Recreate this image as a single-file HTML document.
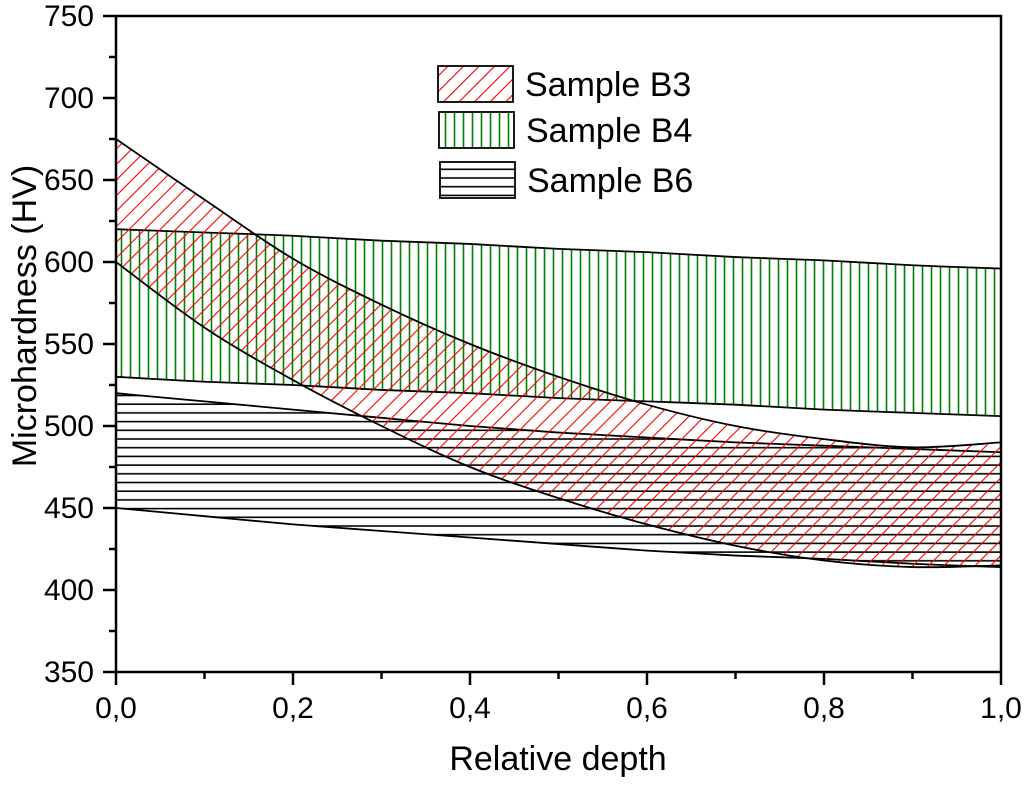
<!DOCTYPE html>
<html><head><meta charset="utf-8"><style>
body{margin:0;background:#fff;}
svg text{font-family:"Liberation Sans",sans-serif;fill:#000;}
</style></head><body>
<svg id="chart" width="1024" height="781" viewBox="0 0 1024 781" xmlns="http://www.w3.org/2000/svg">
<defs>
<pattern id="pRed" patternUnits="userSpaceOnUse" width="11" height="11" patternTransform="rotate(45)">
<line x1="0" y1="0" x2="0" y2="11" stroke="#ff0000" stroke-width="2.2"/></pattern>
<pattern id="pGreen" patternUnits="userSpaceOnUse" width="9" height="9">
<line x1="4.5" y1="0" x2="4.5" y2="9" stroke="#008000" stroke-width="1.6"/></pattern>
<pattern id="pBlack" patternUnits="userSpaceOnUse" width="9" height="8.7">
<line x1="0" y1="4" x2="9" y2="4" stroke="#000" stroke-width="1.6"/></pattern>
<clipPath id="plotClip"><rect x="116" y="16" width="885" height="656"/></clipPath>
</defs>
<g id="bands" clip-path="url(#plotClip)"></g>
<g id="axes"></g>
<g id="legend"></g>
</svg>
<script>
const xs = [0, 0.1, 0.2, 0.3, 0.4, 0.5, 0.6, 0.7, 0.8, 0.9, 1.0];
const b3Upper = [675, 638, 602, 574, 550, 530, 513, 500, 492, 487, 490];
const b3Lower = [600, 560, 528, 500, 475, 456, 440, 427, 418, 414, 415];
const b4Upper = [620, 618, 616, 613, 611, 608, 606, 603, 601, 598, 596];
const b4Lower = [530, 527, 525, 522, 520, 517, 515, 513, 510, 508, 506];
const b6Upper = [520, 515, 510, 505, 500, 496, 493, 490, 488, 486, 484];
const b6Lower = [450, 445, 440, 436, 432, 428, 424, 421, 419, 416, 414];
const yTicks = [350, 400, 450, 500, 550, 600, 650, 700, 750];
const xTicks = [0, 0.2, 0.4, 0.6, 0.8, 1.0];
const xTickLabels = ["0,0", "0,2", "0,4", "0,6", "0,8", "1,0"];

const X0 = 116, X1 = 1001, Y0 = 672, Y1 = 16;
const xS = v => X0 + v * (X1 - X0);
const yS = v => Y0 - (v - 350) / 400 * (Y0 - Y1);
const NS = "http://www.w3.org/2000/svg";
function mk(tag, attrs, parent) {
  const e = document.createElementNS(NS, tag);
  for (const k in attrs) e.setAttribute(k, attrs[k]);
  parent.appendChild(e);
  return e;
}
function smooth(pts) {
  let d = 'L' + pts[0][0] + ',' + pts[0][1];
  for (let i = 0; i < pts.length - 1; i++) {
    const p0 = pts[Math.max(0, i - 1)], p1 = pts[i], p2 = pts[i + 1], p3 = pts[Math.min(pts.length - 1, i + 2)];
    const c1x = p1[0] + (p2[0] - p0[0]) / 6, c1y = p1[1] + (p2[1] - p0[1]) / 6;
    const c2x = p2[0] - (p3[0] - p1[0]) / 6, c2y = p2[1] - (p3[1] - p1[1]) / 6;
    d += 'C' + c1x + ',' + c1y + ' ' + c2x + ',' + c2y + ' ' + p2[0] + ',' + p2[1];
  }
  return d;
}
const bands = document.getElementById('bands');
function band(up, lo, fill, name) {
  const pu = xs.map((x, i) => [xS(x), yS(up[i])]);
  const pl = xs.map((x, i) => [xS(x), yS(lo[i])]).reverse();
  const d = 'M' + pu[0][0] + ',' + pu[0][1] + smooth(pu) + smooth(pl) + 'Z';
  const p = mk('path', {d: d, fill: fill, stroke: 'none'}, bands);
  
  
  [pu, pl].forEach(pts => {
    const l = mk('path', {d: 'M' + pts[0][0] + ',' + pts[0][1] + smooth(pts), fill: 'none', stroke: '#000', 'stroke-width': 1.8}, bands);
    
    
  });
}
band(b6Upper, b6Lower, 'url(#pBlack)', 'band-b6');
band(b4Upper, b4Lower, 'url(#pGreen)', 'band-b4');
band(b3Upper, b3Lower, 'url(#pRed)', 'band-b3');

const axes = document.getElementById('axes');
const frame = mk('rect', {x: X0, y: Y1, width: X1 - X0, height: Y0 - Y1, fill: 'none', stroke: '#000', 'stroke-width': 2.5}, axes);


yTicks.forEach((v, i) => {
  mk('line', {x1: X0 - 13, x2: X0, y1: yS(v), y2: yS(v), stroke: '#000', 'stroke-width': 2.5}, axes);
  if (i < yTicks.length - 1) { const m = yS(v + 25); mk('line', {x1: X0 - 7, x2: X0, y1: m, y2: m, stroke: '#000', 'stroke-width': 2.5}, axes); }
  const t = mk('text', {x: 94, y: yS(v) + 10, 'text-anchor': 'end', 'font-size': 30}, axes);
  t.textContent = v;
  
  
});
xTicks.forEach((v, i) => {
  mk('line', {x1: xS(v), x2: xS(v), y1: Y0, y2: Y0 + 13, stroke: '#000', 'stroke-width': 2.5}, axes);
  if (i < xTicks.length - 1) { const m = xS(v + 0.1); mk('line', {x1: m, x2: m, y1: Y0, y2: Y0 + 7, stroke: '#000', 'stroke-width': 2.5}, axes); }
  const t = mk('text', {x: xS(v), y: 718, 'text-anchor': 'middle', 'font-size': 30}, axes);
  t.textContent = xTickLabels[i];
  
  
});
const xt = mk('text', {x: 558, y: 770, 'text-anchor': 'middle', 'font-size': 34}, axes);
xt.textContent = 'Relative depth';


const yt = mk('text', {x: 0, y: 0, 'text-anchor': 'middle', 'font-size': 34, transform: 'translate(36,316) rotate(-90)'}, axes);
yt.textContent = 'Microhardness (HV)';



const leg = document.getElementById('legend');
[['url(#pRed)', 'Sample B3', 438, 66], ['url(#pGreen)', 'Sample B4', 439, 112], ['url(#pBlack)', 'Sample B6', 440, 162]].forEach(e => {
  const r = mk('rect', {x: e[2], y: e[3], width: 75, height: 36, fill: e[0], stroke: '#000', 'stroke-width': 1.8}, leg);
  
  
  const t = mk('text', {x: e[2] + 87, y: e[3] + 30, 'font-size': 34}, leg);
  t.textContent = e[1];
  
  
});
</script>
</body></html>
